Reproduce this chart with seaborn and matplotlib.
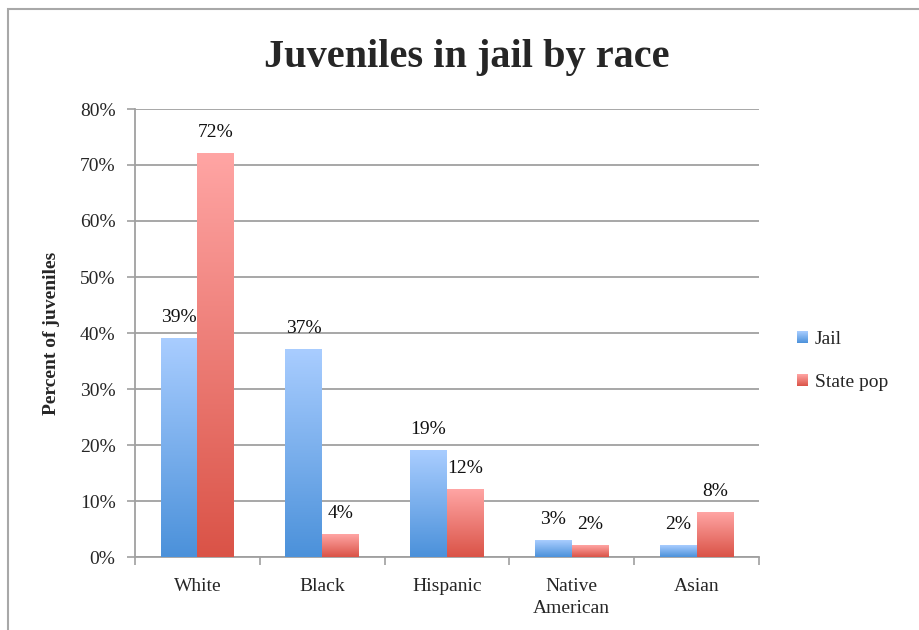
import numpy as np
import pandas as pd
import matplotlib
matplotlib.use("Agg")
import matplotlib.pyplot as plt
import seaborn as sns
from matplotlib.colors import LinearSegmentedColormap
from matplotlib.patches import Rectangle
from matplotlib.legend_handler import HandlerBase

categories = ["White", "Black", "Hispanic", "Native\nAmerican", "Asian"]
jail = [39, 37, 19, 3, 2]
state_pop = [72, 4, 12, 2, 8]
series = ["Jail", "State pop"]
yticks = [0, 10, 20, 30, 40, 50, 60, 70, 80]

df = pd.DataFrame({
    "Race": categories * 2,
    "Percent": jail + state_pop,
    "Series": [series[0]] * len(categories) + [series[1]] * len(categories),
})

sns.set_style("white")
plt.rcParams["font.family"] = ["Liberation Serif", "DejaVu Serif"]

fig = plt.figure(figsize=(9.19, 6.3), dpi=100)
ax = fig.add_axes([135 / 919, 73 / 630, 624 / 919, 448 / 630])

palette = {"Jail": "#7FB0EC", "State pop": "#EE7E78"}
sns.barplot(data=df, x="Race", y="Percent", hue="Series", palette=palette,
            width=0.59, ax=ax, legend=False, saturation=1)

grads = {
    "Jail": LinearSegmentedColormap.from_list("b", ["#4B91DA", "#A9CDFF"]),
    "State pop": LinearSegmentedColormap.from_list("r", ["#DA5347", "#FFA5A4"]),
}
grad = np.linspace(0, 1, 256).reshape(-1, 1)

for container, s in zip(ax.containers, series):
    for bar in container:
        x0, y0 = bar.get_x(), bar.get_y()
        w, h = bar.get_width(), bar.get_height()
        bar.set_visible(False)
        ax.imshow(grad, cmap=grads[s], origin="lower", aspect="auto",
                  extent=[x0, x0 + w, y0, y0 + h], zorder=3, interpolation="bilinear")
        ax.text(x0 + w / 2, h + 2.2, f"{h:.0f}%", ha="center", va="bottom",
                fontsize=14, color="#111111", zorder=4)

ax.set_xlim(-0.5, len(categories) - 0.5)
ax.set_ylim(0, 80)
ax.set_yticks(yticks)
ax.set_yticklabels([f"{t}%" for t in yticks], fontsize=14)
ax.yaxis.grid(True, color="#A0A0A0", linewidth=1.3)
ax.set_axisbelow(True)
ax.set_xticks(range(len(categories)))
ax.set_xticklabels(categories, fontsize=14, linespacing=1.4)
ax.set_xticks(np.arange(-0.5, len(categories)), minor=True)
ax.tick_params(axis="x", which="major", length=0, pad=15)
ax.tick_params(axis="x", which="minor", length=6, color="#A0A0A0", width=1.2, direction="out")
ax.tick_params(axis="y", length=6, color="#A0A0A0", width=1.2, direction="out", pad=8)
ax.yaxis.set_ticks_position("left")
ax.xaxis.set_ticks_position("bottom")
for side in ["top", "right"]:
    ax.spines[side].set_visible(False)
for side in ["left", "bottom"]:
    ax.spines[side].set_color("#A0A0A0")
    ax.spines[side].set_linewidth(1.3)
ax.set_xlabel("")
ax.set_ylabel("Percent of juveniles", fontsize=14, fontweight="bold", labelpad=14)

fig.suptitle("Juveniles in jail by race", x=467 / 919, y=1 - 57 / 630, va="center",
             fontsize=29, fontweight="bold")


class GradientHandler(HandlerBase):
    def __init__(self, cmap):
        super().__init__()
        self.cmap = cmap

    def create_artists(self, legend, orig_handle, xdescent, ydescent, width, height,
                       fontsize, trans):
        n = 12
        arts = []
        for i in range(n):
            arts.append(Rectangle((-xdescent, -ydescent + height * i / n), width, height / n + 0.1,
                                  facecolor=self.cmap((i + 0.5) / n), edgecolor="none",
                                  transform=trans))
        return arts


handles = [Rectangle((0, 0), 1, 1) for _ in series]
fig.legend(handles, series, loc="center left", bbox_to_anchor=(779 / 919, 1 - 361 / 630),
           frameon=False, fontsize=14, handlelength=0.6, handleheight=0.6,
           handletextpad=0.35, labelspacing=1.35,
           handler_map={handles[0]: GradientHandler(grads["Jail"]),
                        handles[1]: GradientHandler(grads["State pop"])})

# outer border
fig.add_artist(Rectangle((8 / 919, -0.01), 1.0, 1 - 9 / 630 + 0.01, transform=fig.transFigure,
                         fill=False, edgecolor="#A8A8A8", linewidth=1.5))

fig.savefig("out.png", dpi=100)
